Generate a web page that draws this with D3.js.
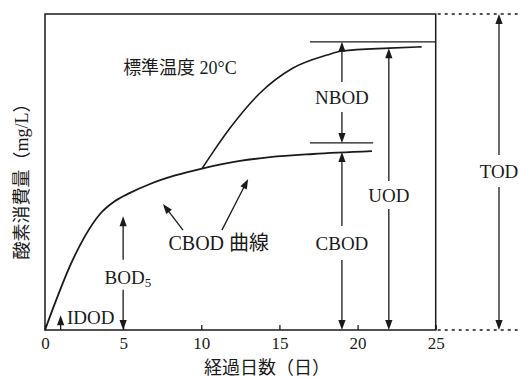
<!DOCTYPE html>
<html><head><meta charset="utf-8">
<script src="https://cdn.jsdelivr.net/npm/d3@7"></script>
<style>
body{margin:0;background:#fff}
svg{display:block}
text{font-family:"Liberation Serif","Noto Sans CJK JP",serif;fill:#1a1a1a}
</style></head><body>
<svg id="c" width="520" height="378"></svg>
<script>
// ---- data ----
const dayTicks = [0, 5, 10, 15, 20, 25];
const cbodDays   = [0, 0.64, 1.60, 2.56, 3.52, 4.48, 5.44, 6.72, 8.32, 10.05, 12.48, 14.4, 17.15, 20.92];
const cbodValues = [0, 8.5, 20.3, 29.7, 36.7, 40.8, 43.4, 46.2, 48.9, 51.1, 53.5, 54.7, 55.7, 56.6];
const nbodDays   = [10.05, 10.75, 11.84, 13.76, 15.87, 18.04, 19.0, 22.0, 24.1];
const nbodValues = [51.1, 56.3, 63.9, 75.0, 82.9, 87.0, 88.3, 89.2, 89.6];
const levelNames  = ["TOD", "UOD", "CBOD", "BOD5", "IDOD"];
const levelValues = [100, 91.2, 59.2, 36.0, 4.7];
const xTitle = "経過日数（日）";
const yTitle = "酸素消費量（mg/L）";
const tempLabel = "標準温度 20°C";
const curveLabel = "CBOD 曲線";

const TOD = levelValues[0], UOD = levelValues[1], CBODult = levelValues[2],
      BOD5top = levelValues[3], IDODtop = levelValues[4];

// ---- scales ----
const svg = d3.select("#c");
const x = d3.scaleLinear().domain([0, 25]).range([45, 435.7]);
const y = d3.scaleLinear().domain([0, 100]).range([330, 14]);
const ink = "#1a1a1a";

function head(tx, ty, ang) {
  const L = 10, W = 3.6;
  const bx = tx - L * Math.cos(ang), by = ty - L * Math.sin(ang);
  const px = -Math.sin(ang) * W, py = Math.cos(ang) * W;
  svg.append("path")
    .attr("d", `M${tx},${ty}L${bx + px},${by + py}L${bx - px},${by - py}Z`)
    .attr("fill", ink);
}
function seg(x1, y1, x2, y2, w) {
  svg.append("line").attr("x1", x1).attr("y1", y1).attr("x2", x2).attr("y2", y2)
    .attr("stroke", ink).attr("stroke-width", w || 1.3);
}
function vArrow(day, vTop, vBot, label, labelV, gap, topHead, botHead) {
  const px = x(day), yt = y(vTop), yb = y(vBot);
  if (label) {
    const yc = y(labelV);
    seg(px, yt + (topHead ? 6 : 0), px, yc - gap);
    seg(px, yc + gap, px, yb - (botHead ? 6 : 0));
  } else {
    seg(px, yt + (topHead ? 6 : 0), px, yb - (botHead ? 6 : 0));
  }
  if (topHead) head(px, yt, -Math.PI / 2);
  if (botHead) head(px, yb, Math.PI / 2);
}

// ---- frame ----
svg.append("rect").attr("x", x(0)).attr("y", y(100))
  .attr("width", x(25) - x(0)).attr("height", y(0) - y(100))
  .attr("fill", "none").attr("stroke", ink).attr("stroke-width", 1.5);
[TOD, 0].forEach(v => {
  svg.append("line").attr("x1", x(25) + 2).attr("x2", 520)
    .attr("y1", y(v)).attr("y2", y(v))
    .attr("stroke", ink).attr("stroke-width", 1.3).attr("stroke-dasharray", "3,4");
});

// ---- axis ----
const ax = svg.append("g").attr("transform", `translate(0,${y(0)})`)
  .call(d3.axisBottom(x).tickValues(dayTicks).tickSizeInner(-5).tickSizeOuter(0).tickPadding(7));
ax.select(".domain").remove();
ax.selectAll(".tick line").attr("stroke", ink).attr("stroke-width", 1.3);
ax.selectAll(".tick text").attr("font-size", 17).attr("fill", ink)
  .style("font-family", '"Liberation Serif",serif');

// ---- curves ----
const line = d3.line().x(d => x(d[0])).y(d => y(d[1])).curve(d3.curveMonotoneX);
svg.append("path").attr("d", line(cbodDays.map((d, i) => [d, cbodValues[i]])))
  .attr("fill", "none").attr("stroke", ink).attr("stroke-width", 1.8);
svg.append("path").attr("d", line(nbodDays.map((d, i) => [d, nbodValues[i]])))
  .attr("fill", "none").attr("stroke", ink).attr("stroke-width", 1.6);

// ---- level lines ----
seg(x(16.95), y(UOD), x(25), y(UOD), 1.3);
seg(x(16.95), y(CBODult), x(21.0), y(CBODult), 1.3);

// ---- arrows ----
vArrow(19, UOD, CBODult, "NBOD", 73.7, 15, true, true);
vArrow(19, 56.3, 0, "CBOD", 27.5, 17, true, true);
vArrow(22, 89.2, 0, "UOD", 42.7, 14, true, true);
vArrow(29.05, TOD, 0, "TOD", 50.3, 16, true, true);
vArrow(5, BOD5top, 0, "BOD", 17.5, 15, true, true);
vArrow(1.0, IDODtop, 0, null, 0, 0, true, false);

function pointer(d1, v1, d2, v2) {
  const x1 = x(d1), y1 = y(v1), x2 = x(d2), y2 = y(v2);
  const ang = Math.atan2(y2 - y1, x2 - x1);
  seg(x1, y1, x2 - 6 * Math.cos(ang), y2 - 6 * Math.sin(ang), 1.3);
  head(x2, y2, ang);
}
pointer(8.83, 31.6, 7.55, 39.9);
pointer(11.32, 31.6, 13.0, 47.8);

// ---- labels ----
function label(txt, day, v, size, anchor) {
  return svg.append("text").attr("x", x(day)).attr("y", y(v))
    .attr("font-size", size).attr("text-anchor", anchor || "middle")
    .attr("dominant-baseline", "central").text(txt);
}
label(tempLabel, 5.0, 82.9, 18, "start");
label("NBOD", 19, 73.7, 19);
label("CBOD", 19, 27.5, 19);
label("UOD", 22, 42.7, 19);
label("TOD", 29.05, 50.3, 19);
const b5 = label("BOD", 5.3, 16.5, 19);
b5.append("tspan").attr("font-size", 13).attr("dy", 4).text("5");
label("IDOD", 1.4, 3.8, 19, "start");
label(curveLabel, 7.9, 27.5, 20, "start");

svg.append("text").attr("x", 267).attr("y", 368).attr("font-size", 18)
  .attr("text-anchor", "middle").attr("dominant-baseline", "central").text(xTitle);
svg.append("text").attr("transform", "translate(22,177) rotate(-90)").attr("font-size", 18)
  .attr("text-anchor", "middle").attr("dominant-baseline", "central").text(yTitle);
</script>
</body></html>
